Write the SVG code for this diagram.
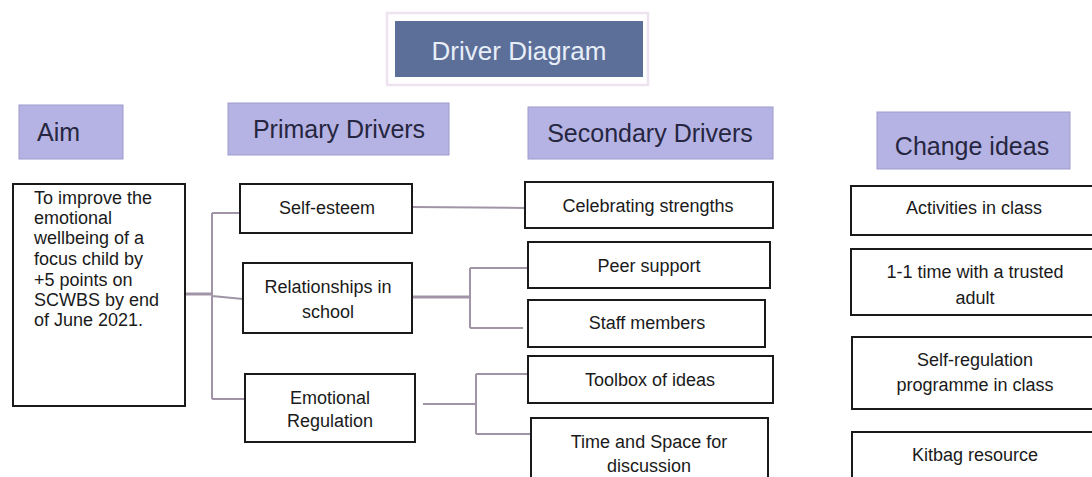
<svg xmlns="http://www.w3.org/2000/svg" width="1092" height="477" viewBox="0 0 1092 477">
  <style>
    .hdr { fill: #b5b3e3; stroke: #9d9bcb; stroke-width: 1; }
    .hdr-t { font-family: "Liberation Sans", Arial, sans-serif; font-size: 25px; fill: #262640; }
    .box { fill: #ffffff; stroke: #1a1a1a; stroke-width: 2; }
    .t { font-family: "Liberation Sans", Arial, sans-serif; font-size: 18px; fill: #1a1a1a; }
    .c { text-anchor: middle; }
    .link { fill: none; stroke: #a094a6; stroke-width: 2; }
    .thick { stroke-width: 3; }
  </style>

  <rect width="1092" height="477" fill="#ffffff"/>

  <!-- title banner -->
  <g id="title">
    <rect x="387" y="13" width="261" height="72" fill="#ffffff" stroke="#efe2f0" stroke-width="2.5"/>
    <rect x="395" y="21" width="248" height="56" fill="#5b6f99"/>
    <text x="519" y="60" class="c" font-family="Liberation Sans, Arial, sans-serif" font-size="26" fill="#e8eef8">Driver Diagram</text>
  </g>

  <!-- column headings -->
  <g id="hdr-aim">
    <rect class="hdr" x="19" y="105" width="104" height="54"/>
    <text class="hdr-t" x="37" y="141">Aim</text>
  </g>
  <g id="hdr-primary">
    <rect class="hdr" x="228" y="103" width="221" height="52"/>
    <text class="hdr-t c" x="339" y="138">Primary Drivers</text>
  </g>
  <g id="hdr-secondary">
    <rect class="hdr" x="528" y="107" width="245" height="52"/>
    <text class="hdr-t c" x="650" y="142">Secondary Drivers</text>
  </g>
  <g id="hdr-change">
    <rect class="hdr" x="877" y="112" width="193" height="57"/>
    <text class="hdr-t c" x="972" y="155">Change ideas</text>
  </g>

  <!-- connectors -->
  <g id="connectors">
    <path class="link thick" d="M185,294 H212"/>
    <path class="link" d="M212,213 V399 M212,213 H240 M212,296 L243,299 M212,399 H245"/>
    <path class="link" d="M412,207 L525,208"/>
    <path class="link thick" d="M412,297 H470"/>
    <path class="link" d="M470,268 V328 M470,268 H528 M470,328 H523"/>
    <path class="link" d="M423,404 H476 M476,374 V434 M476,374 H528 M476,434 H531"/>
  </g>

  <!-- aim -->
  <g id="aim">
    <rect class="box" x="13" y="184" width="172" height="222"/>
    <text class="t" x="34" y="204">To improve the</text>
    <text class="t" x="34" y="224">emotional</text>
    <text class="t" x="34" y="244">wellbeing of a</text>
    <text class="t" x="34" y="265">focus child by</text>
    <text class="t" x="34" y="286">+5 points on</text>
    <text class="t" x="34" y="306">SCWBS by end</text>
    <text class="t" x="34" y="326">of June 2021.</text>
  </g>

  <!-- primary drivers -->
  <g id="p-self-esteem">
    <rect class="box" x="240" y="184" width="172" height="49"/>
    <text class="t c" x="327" y="214">Self-esteem</text>
  </g>
  <g id="p-relationships">
    <rect class="box" x="243" y="263" width="169" height="70"/>
    <text class="t c" x="328" y="293">Relationships in</text>
    <text class="t c" x="328" y="318">school</text>
  </g>
  <g id="p-emotional">
    <rect class="box" x="245" y="374" width="170" height="68"/>
    <text class="t c" x="330" y="404">Emotional</text>
    <text class="t c" x="330" y="427">Regulation</text>
  </g>

  <!-- secondary drivers -->
  <g id="s-celebrating">
    <rect class="box" x="525" y="182" width="248" height="46"/>
    <text class="t c" x="648" y="212">Celebrating strengths</text>
  </g>
  <g id="s-peer">
    <rect class="box" x="528" y="242" width="242" height="46"/>
    <text class="t c" x="649" y="272">Peer support</text>
  </g>
  <g id="s-staff">
    <rect class="box" x="528" y="300" width="237" height="47"/>
    <text class="t c" x="647" y="329">Staff members</text>
  </g>
  <g id="s-toolbox">
    <rect class="box" x="528" y="356" width="245" height="47"/>
    <text class="t c" x="650" y="386">Toolbox of ideas</text>
  </g>
  <g id="s-time-space">
    <rect class="box" x="531" y="418" width="237" height="70"/>
    <text class="t c" x="649" y="448">Time and Space for</text>
    <text class="t c" x="649" y="472">discussion</text>
  </g>

  <!-- change ideas -->
  <g id="c-activities">
    <rect class="box" x="851" y="186" width="250" height="49"/>
    <text class="t c" x="974" y="214">Activities in class</text>
  </g>
  <g id="c-one-to-one">
    <rect class="box" x="851" y="249" width="250" height="66"/>
    <text class="t c" x="975" y="278">1-1 time with a trusted</text>
    <text class="t c" x="975" y="304">adult</text>
  </g>
  <g id="c-self-regulation">
    <rect class="box" x="852" y="337" width="250" height="72"/>
    <text class="t c" x="975" y="366">Self-regulation</text>
    <text class="t c" x="975" y="391">programme in class</text>
  </g>
  <g id="c-kitbag">
    <rect class="box" x="852" y="432" width="250" height="60"/>
    <text class="t c" x="975" y="461">Kitbag resource</text>
  </g>
</svg>
